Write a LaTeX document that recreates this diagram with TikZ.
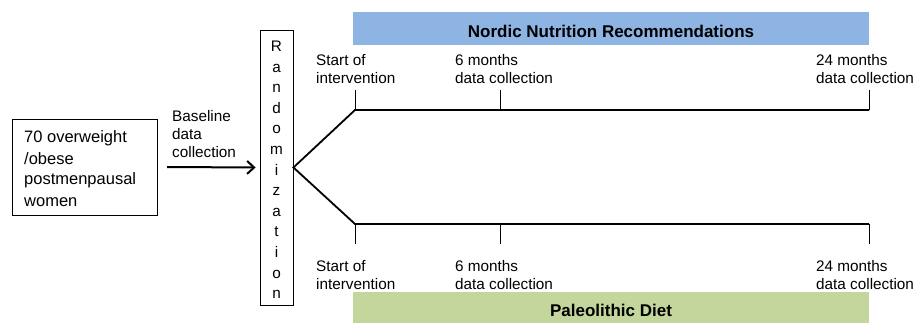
\documentclass[tikz,border=0pt]{standalone}
\usepackage{fontspec}
\setmainfont{Liberation Sans}
\usetikzlibrary{arrows.meta}
\definecolor{nnrblue}{HTML}{8EB4E3}
\definecolor{paleogreen}{HTML}{C3D69B}
\begin{document}
\begin{tikzpicture}[x=1pt,y=1pt,
  lbl/.style={font=\fontsize{15.3}{18}\selectfont, align=left, inner sep=0pt, anchor=base west},
  timeline/.style={line width=1.8pt},
  tick/.style={line width=1pt},
  bartext/.style={font=\fontsize{17}{20}\selectfont\bfseries, inner sep=0pt},
  barbox/.style={minimum width=516pt, minimum height=33pt, inner sep=0pt}]
\useasboundingbox (0,0) rectangle (917,-323);
% population box
\node[draw, line width=0.9pt, minimum width=145pt, minimum height=96pt, inner sep=0pt] (pop) at (84.5,-167) {};
\node[font=\fontsize{16.5}{21}\selectfont, align=left, inner sep=0pt, anchor=base west] (poptext) at (24,-206) {70 overweight\\/obese\\postmenpausal\\women};
% randomization box
\node[draw, line width=0.9pt, minimum width=33pt, minimum height=275pt, inner sep=0pt] (rand) at (276.5,-167.5) {};
\node[font=\fontsize{15.3}{20.6}\selectfont, align=center, inner sep=0pt, anchor=base] (randtext) at (276.5,-298.7) {R\\a\\n\\d\\o\\m\\i\\z\\a\\t\\i\\o\\n};
% baseline arrow
\coordinate (arrstart) at (167,-167);
\draw[line width=2pt, -{Straight Barb[length=7pt,width=13pt,line width=2pt]}] (arrstart) -- ([xshift=-4pt]rand.west);
\node[lbl] (baseline) at (172,-158) {Baseline\\data\\collection};
% bars
\node[barbox, fill=nnrblue] (nnr) at (611,-29) {};
\node[bartext] (nnrtext) at (611,-31) {Nordic Nutrition Recommendations};
\node[barbox, fill=paleogreen, minimum height=31pt] (paleo) at (611,-307.5) {};
\node[bartext] (paleotext) at (611,-310) {Paleolithic Diet};
% timeline coordinates
\coordinate (a0) at (355,-110);
\coordinate (a1) at (500,-110);
\coordinate (a2) at (869,-110);
\coordinate (a0u) at (355,-90);
\coordinate (a1u) at (500,-90);
\coordinate (a2u) at (869,-90);
\coordinate (b0) at (355,-224);
\coordinate (b1) at (500,-224);
\coordinate (b2) at (869,-224);
\coordinate (b0d) at (355,-244);
\coordinate (b1d) at (500,-244);
\coordinate (b2d) at (869,-244);
% branch lines
\draw[timeline, line join=miter] (a2) -- (a0) -- (rand.east) -- (b0) -- (b2);
\draw[tick] (a0) -- (a0u);
\draw[tick] (a1) -- (a1u);
\draw[tick] (a2) -- (a2u);
\draw[tick] (b0) -- (b0d);
\draw[tick] (b1) -- (b1d);
\draw[tick] (b2) -- (b2d);
% labels top
\node[lbl] (ls0) at (316,-83.5) {Start of\\intervention};
\node[lbl] (ls1) at (455,-83.5) {6 months\\data collection};
\node[lbl] (ls2) at (816,-83.5) {24 months\\data collection};
% labels bottom
\node[lbl] (lb0) at (316,-289.5) {Start of\\intervention};
\node[lbl] (lb1) at (455,-289.5) {6 months\\data collection};
\node[lbl] (lb2) at (816,-289.5) {24 months\\data collection};
\end{tikzpicture}
\end{document}
